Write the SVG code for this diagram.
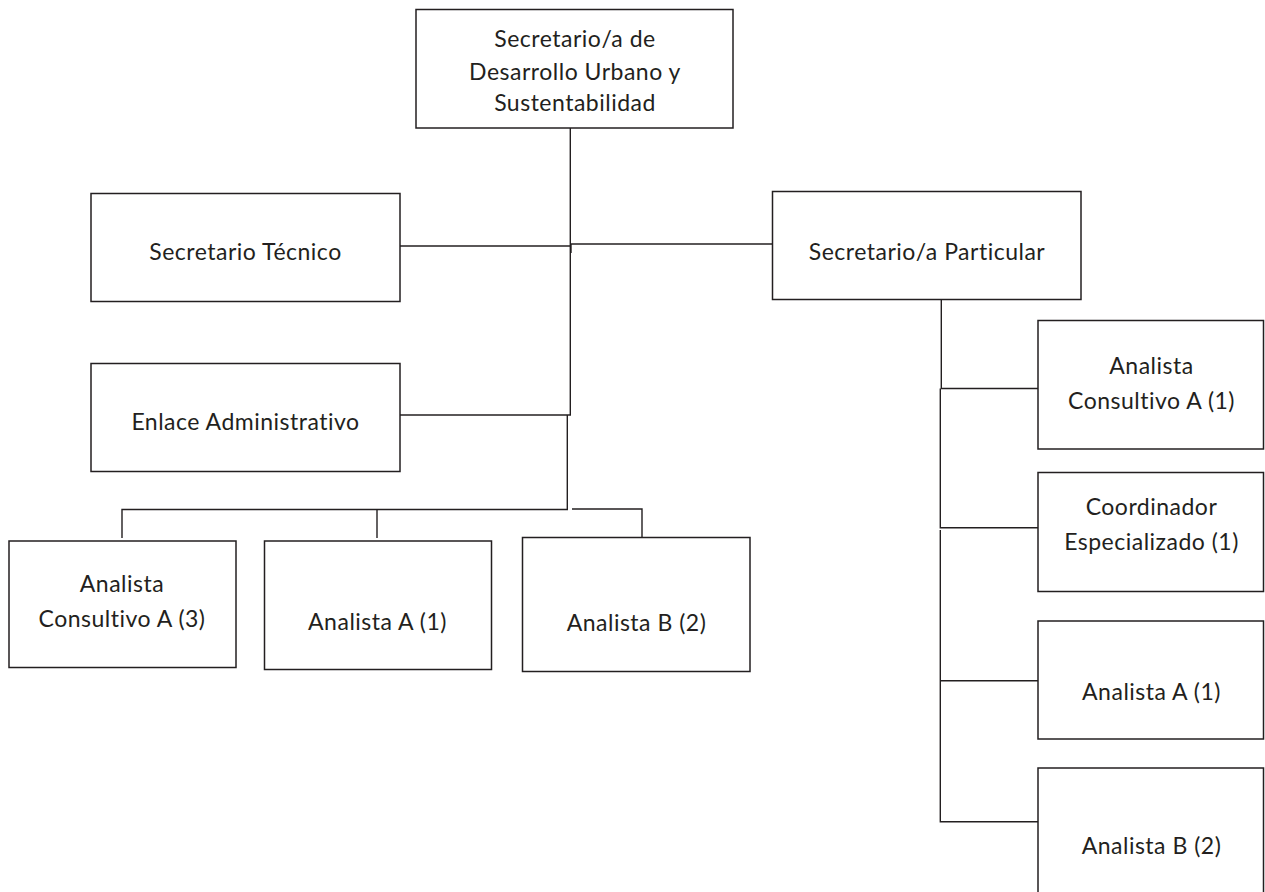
<svg xmlns="http://www.w3.org/2000/svg" width="1265" height="892" viewBox="0 0 1265 892">
<style>
.box{fill:#fff;stroke:#231f20;stroke-width:1.5}
.ln{stroke:#231f20;stroke-width:1.4;fill:none}
text{font-family:Lato,"Noto Sans","Liberation Sans",sans-serif;font-size:23px;letter-spacing:0.5px;fill:#231f20;text-anchor:middle}
</style>
<rect width="1265" height="892" fill="#fff"/>
<g id="connectors">
<path class="ln" d="M570.3 128 V415"/>
<path class="ln" d="M400 246 H570"/>
<path class="ln" d="M571 244 H772"/>
<path class="ln" d="M571 244 V253"/>
<path class="ln" d="M400 415 H571"/>
<path class="ln" d="M567.3 415 V509.5 H122 V538"/>
<path class="ln" d="M377 509.5 V538"/>
<path class="ln" d="M572 509 H642 V538"/>
<path class="ln" d="M941.3 299 V388.5 H1038"/>
<path class="ln" d="M940.3 388.5 V527.7 H1038"/>
<path class="ln" d="M940.3 530 V821.7 H1038"/>
<path class="ln" d="M940.3 680.7 H1038"/>
</g>
<g id="n-secretario">
<rect class="box" x="416" y="9.5" width="317" height="118.5"/>
<text x="575" y="47">Secretario/a de</text>
<text x="575" y="80">Desarrollo Urbano y</text>
<text x="575" y="111">Sustentabilidad</text>
</g>
<g id="n-tecnico">
<rect class="box" x="91" y="193.5" width="309" height="108"/>
<text x="245.5" y="259.5">Secretario Técnico</text>
</g>
<g id="n-enlace">
<rect class="box" x="91" y="363.5" width="309" height="108"/>
<text x="245.5" y="430">Enlace Administrativo</text>
</g>
<g id="n-particular">
<rect class="box" x="772.5" y="191.5" width="308.5" height="108"/>
<text x="927" y="260">Secretario/a Particular</text>
</g>
<g id="n-consultivo-a3">
<rect class="box" x="9" y="541" width="227" height="126.5"/>
<text x="122" y="591.5">Analista</text>
<text x="122" y="626.5">Consultivo A (3)</text>
</g>
<g id="n-analista-a1-left">
<rect class="box" x="264.5" y="541" width="227" height="128.5"/>
<text x="377.5" y="629.5">Analista A (1)</text>
</g>
<g id="n-analista-b2-left">
<rect class="box" x="522.5" y="537.5" width="227.5" height="134"/>
<text x="636.5" y="631">Analista B (2)</text>
</g>
<g id="n-consultivo-a1">
<rect class="box" x="1038" y="320.5" width="225.5" height="128.5"/>
<text x="1151.5" y="373.5">Analista</text>
<text x="1151.5" y="408.5">Consultivo A (1)</text>
</g>
<g id="n-coordinador">
<rect class="box" x="1038" y="472.5" width="225.5" height="119"/>
<text x="1151.5" y="515">Coordinador</text>
<text x="1151.5" y="550">Especializado (1)</text>
</g>
<g id="n-analista-a1-right">
<rect class="box" x="1038" y="621" width="225.5" height="118"/>
<text x="1151.5" y="699.5">Analista A (1)</text>
</g>
<g id="n-analista-b2-right">
<rect class="box" x="1038" y="768" width="225.5" height="130"/>
<text x="1151.5" y="853.5">Analista B (2)</text>
</g>
</svg>
